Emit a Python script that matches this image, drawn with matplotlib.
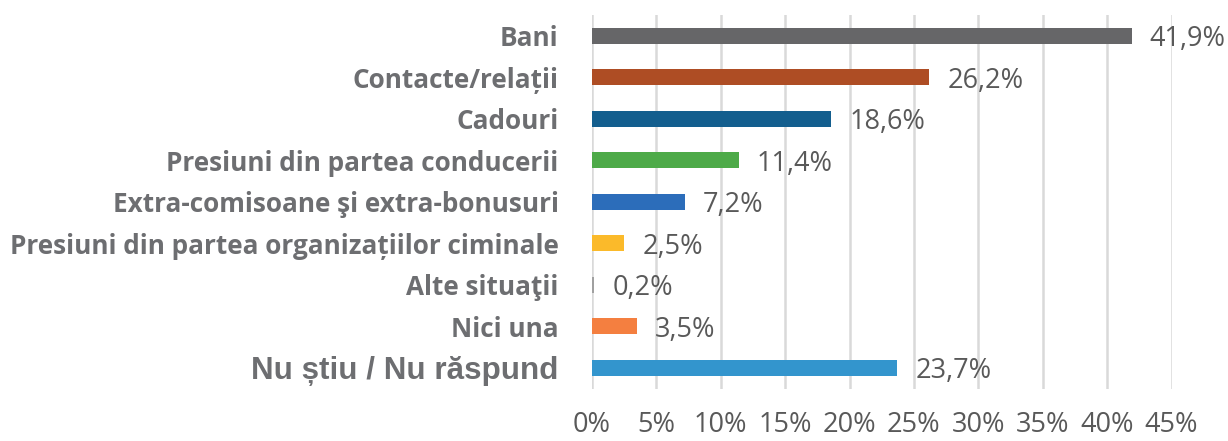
import matplotlib.pyplot as plt
from matplotlib.ticker import FuncFormatter

categories = [
    "Bani",
    "Contacte/relații",
    "Cadouri",
    "Presiuni din partea conducerii",
    "Extra-comisoane şi extra-bonusuri",
    "Presiuni din partea organizațiilor ciminale",
    "Alte situaţii",
    "Nici una",
    "Nu știu / Nu răspund",
]
values = [41.9, 26.2, 18.6, 11.4, 7.2, 2.5, 0.2, 3.5, 23.7]
colors = ["#666668", "#AE4D24", "#135E8E", "#4DAA48", "#2C6DBA",
          "#FBBA2A", "#A0A0A0", "#F47F40", "#3395CD"]
xticks = [0, 5, 10, 15, 20, 25, 30, 35, 40, 45]

txt = "#6d6e71"

fig = plt.figure(figsize=(12.28, 4.41), dpi=100)
ax = fig.add_axes([0.482, 0.119, 0.472, 0.847])

ypos = list(range(len(categories)))
ax.barh(ypos, values, height=0.38, color=colors, zorder=3)

for y, v in zip(ypos, values):
    ax.annotate(f"{v:.1f}%".replace(".", ","), (v, y), xytext=(13, -2.5),
                textcoords="offset points", ha="left", va="center",
                fontsize=19.5, color="#595959", family="Open Sans",
                annotation_clip=False)

ax.set_xlim(0, 45)
ax.set_ylim(8.5, -0.5)
ax.set_xticks(xticks)
ax.xaxis.set_major_formatter(FuncFormatter(lambda x, p: f"{x:.0f}%"))
ax.set_yticks(ypos)
ax.set_yticklabels(categories)
for i, lab in enumerate(ax.get_yticklabels()):
    if i == len(categories) - 1:
        lab.set_family("Liberation Sans")
        lab.set_fontsize(22.6)
    else:
        lab.set_family("Open Sans")
        lab.set_fontsize(18.8)
    lab.set_fontweight("bold")
    lab.set_color(txt)

for lab in ax.get_xticklabels():
    lab.set_family("Open Sans")
    lab.set_fontsize(19.5)
    lab.set_color("#595959")

ax.tick_params(axis="x", length=0, pad=16.5)
ax.tick_params(axis="y", length=0, pad=24)
ax.grid(axis="x", color="#d9d9d9", linewidth=1.8, zorder=0)
for s in ax.spines.values():
    s.set_visible(False)

plt.savefig("out.png", dpi=100, facecolor="white")
